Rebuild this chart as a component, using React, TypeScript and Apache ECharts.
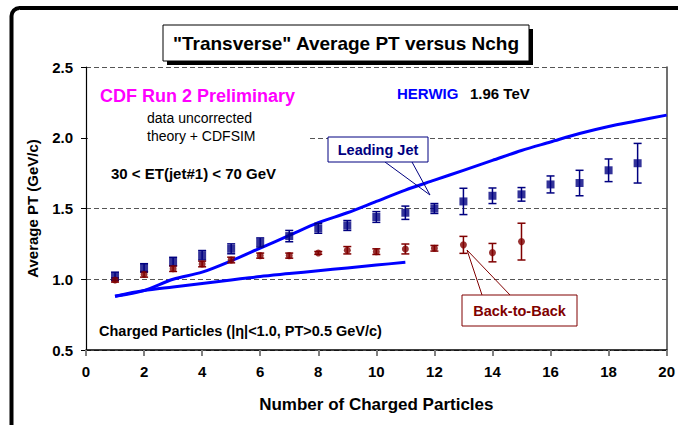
import React, { useEffect, useRef } from "react";
import * as echarts from "echarts";

const FONT = '"Liberation Sans", Arial, sans-serif';

// Data points (CDF Run 2 Preliminary)
const leadingJetN = [1, 2, 3, 4, 5, 6, 7, 8, 9, 10, 11, 12, 13, 14, 15, 16, 17, 18, 19];
const leadingJetPT = [1.02, 1.08, 1.125, 1.17, 1.215, 1.26, 1.305, 1.36, 1.38, 1.44, 1.47, 1.5, 1.55, 1.59, 1.6, 1.67, 1.68, 1.77, 1.82];
const leadingJetErr = [0.03, 0.03, 0.03, 0.033, 0.035, 0.032, 0.04, 0.035, 0.035, 0.038, 0.047, 0.035, 0.093, 0.055, 0.048, 0.06, 0.09, 0.08, 0.14];

const backToBackN = [1, 2, 3, 4, 5, 6, 7, 8, 9, 10, 11, 12, 13, 14, 15];
const backToBackPT = [0.995, 1.035, 1.075, 1.108, 1.136, 1.167, 1.167, 1.186, 1.205, 1.195, 1.214, 1.219, 1.243, 1.188, 1.266];
const backToBackErr = [0.015, 0.02, 0.02, 0.02, 0.02, 0.018, 0.018, 0.01, 0.026, 0.02, 0.035, 0.02, 0.06, 0.065, 0.13];

// HERWIG theory curves
const herwigLeadingN = [1, 2, 3, 4, 5, 6, 7, 8, 9, 10, 11, 12, 13, 14, 15, 16, 17, 18, 19, 20];
const herwigLeadingPT = [0.88, 0.92, 1.0, 1.05, 1.13, 1.22, 1.31, 1.4, 1.47, 1.55, 1.63, 1.7, 1.77, 1.84, 1.91, 1.97, 2.03, 2.08, 2.12, 2.16];
const herwigBackN = [1, 2, 3, 4, 5, 6, 7, 8, 9, 10, 11];
const herwigBackPT = [0.88, 0.92, 0.945, 0.97, 0.995, 1.02, 1.04, 1.06, 1.08, 1.1, 1.12];

const NAVY = "#000080";
const MAROON = "#800000";
const BLUE = "#0000ff";

function errorSeries(ns: number[], vals: number[], errs: number[], color: string) {
  return {
    type: "custom",
    z: 3,
    data: ns.map((n, i) => [n, vals[i] - errs[i], vals[i] + errs[i]]),
    encode: { x: 0, y: [1, 2] },
    renderItem: (_p: any, api: any) => {
      const x = api.value(0);
      const top = api.coord([x, api.value(2)]);
      const bot = api.coord([x, api.value(1)]);
      const w = 4;
      const st = { stroke: color, lineWidth: 1.5 };
      return {
        type: "group",
        children: [
          { type: "line", shape: { x1: top[0], y1: top[1], x2: bot[0], y2: bot[1] }, style: st },
          { type: "line", shape: { x1: top[0] - w, y1: top[1], x2: top[0] + w, y2: top[1] }, style: st },
          { type: "line", shape: { x1: bot[0] - w, y1: bot[1], x2: bot[0] + w, y2: bot[1] }, style: st },
        ],
      };
    },
  };
}

function txt(text: string, x: number, y: number, size: number, color: string, weight = "bold", align = "left") {
  return {
    type: "text",
    x,
    y,
    z: 10,
    style: {
      text,
      fill: color,
      font: `${weight} ${size}px ${FONT}`,
      align,
      verticalAlign: "middle",
    },
  };
}

export default function App() {
  const ref = useRef<HTMLDivElement>(null);
  useEffect(() => {
    if (!ref.current) return;
    const chart = echarts.init(ref.current, undefined, { renderer: "svg" });
    const option: any = {
      animation: false,
      backgroundColor: "#ffffff",
      grid: { left: 86, right: 10, top: 67, bottom: 75 },
      xAxis: {
        type: "value",
        min: 0,
        max: 20,
        interval: 2,
        name: "Number of Charged Particles",
        nameLocation: "middle",
        nameGap: 46,
        nameTextStyle: { fontFamily: FONT, fontWeight: "bold", fontSize: 17, color: "#000" },
        axisLine: { lineStyle: { color: "#000", width: 1.5 } },
        axisTick: { inside: false, length: 6, lineStyle: { color: "#808080", width: 2 } },
        axisLabel: { fontFamily: FONT, fontWeight: "bold", fontSize: 15, color: "#000", margin: 14 },
        splitLine: { show: false },
      },
      yAxis: [
        {
          type: "value",
          min: 0.5,
          max: 2.5,
          interval: 0.5,
          name: "Average PT (GeV/c)",
          nameLocation: "middle",
          nameGap: 46,
          nameRotate: 90,
          nameTextStyle: { fontFamily: FONT, fontWeight: "bold", fontSize: 15, color: "#000" },
          axisLine: { show: true, lineStyle: { color: "#000", width: 1.2 } },
          axisTick: { show: true, length: 5, lineStyle: { color: "#000" } },
          axisLabel: {
            fontFamily: FONT,
            fontWeight: "bold",
            fontSize: 15,
            color: "#000",
            margin: 13,
            formatter: (v: number) => v.toFixed(1),
          },
          splitLine: { show: true, lineStyle: { color: "#555", type: [5, 3], width: 1 } },
        },
        {
          type: "value",
          min: 0.5,
          max: 2.5,
          interval: 0.5,
          position: "right",
          axisLine: { show: true, lineStyle: { color: "#404040", width: 1.5 } },
          axisTick: { show: false },
          axisLabel: { show: false },
          splitLine: { show: false },
        },
      ],
      series: [
        {
          type: "line",
          name: "HERWIG Leading Jet",
          data: herwigLeadingN.map((n, i) => [n, herwigLeadingPT[i]]),
          showSymbol: false,
          smooth: 0.3,
          lineStyle: { color: BLUE, width: 3 },
          z: 2,
        },
        {
          type: "line",
          name: "HERWIG Back-to-Back",
          data: herwigBackN.map((n, i) => [n, herwigBackPT[i]]),
          showSymbol: false,
          smooth: 0.3,
          lineStyle: { color: BLUE, width: 3 },
          z: 2,
        },
        errorSeries(leadingJetN, leadingJetPT, leadingJetErr, NAVY),
        errorSeries(backToBackN, backToBackPT, backToBackErr, MAROON),
        {
          type: "scatter",
          name: "Leading Jet",
          data: leadingJetN.map((n, i) => [n, leadingJetPT[i]]),
          symbol: "rect",
          symbolSize: 8,
          itemStyle: { color: NAVY },
          z: 4,
        },
        {
          type: "scatter",
          name: "Back-to-Back",
          data: backToBackN.map((n, i) => [n, backToBackPT[i]]),
          symbol: "circle",
          symbolSize: 7,
          itemStyle: { color: MAROON },
          z: 4,
        },
      ],
      graphic: [
        // outer frame
        {
          type: "rect",
          z: 20,
          shape: { x: 11.5, y: 8, width: 900, height: 700, r: 8 },
          style: { fill: "none", stroke: "#000", lineWidth: 4 },
        },
        // white patch that hides the left part of the 2.0 gridline
        {
          type: "rect",
          z: 1,
          shape: { x: 88, y: 134, width: 219, height: 8 },
          style: { fill: "#fff" },
        },
        // title box
        { type: "rect", z: 8, shape: { x: 167, y: 29, width: 366, height: 36 }, style: { fill: "#000" } },
        { type: "rect", z: 9, shape: { x: 163, y: 25, width: 366, height: 36 }, style: { fill: "#fff", stroke: "#000", lineWidth: 1 } },
        txt('"Transverse" Average PT versus Nchg', 346, 43, 19, "#000", "bold", "center"),
        // annotations
        txt("CDF Run 2 Preliminary", 100, 95.5, 18, "#ff00ff"),
        txt("data uncorrected", 147, 118, 14, "#000", "normal"),
        txt("theory + CDFSIM", 147, 135.5, 14, "#000", "normal"),
        txt("30 < ET(jet#1) < 70 GeV", 111, 173.5, 15, "#000"),
        txt("HERWIG", 397, 93.5, 15, BLUE),
        txt("1.96 TeV", 470, 93.5, 15, "#000"),
        txt("Charged Particles (|η|<1.0, PT>0.5 GeV/c)", 99, 331, 14.5, "#000"),
        // Leading Jet callout
        {
          type: "polyline",
          z: 5,
          shape: { points: [[385, 162], [430, 195], [412, 162]] },
          style: { stroke: NAVY, lineWidth: 1, fill: "none" },
        },
        { type: "rect", z: 6, shape: { x: 328, y: 137, width: 100, height: 25 }, style: { fill: "#fff", stroke: NAVY, lineWidth: 1 } },
        txt("Leading Jet", 378, 149.5, 14.5, NAVY, "bold", "center"),
        // Back-to-Back callout
        {
          type: "polyline",
          z: 5,
          shape: { points: [[482, 295], [467, 250], [510, 295]] },
          style: { stroke: MAROON, lineWidth: 1, fill: "none" },
        },
        { type: "rect", z: 6, shape: { x: 462, y: 295, width: 115, height: 31 }, style: { fill: "#fff", stroke: MAROON, lineWidth: 1 } },
        txt("Back-to-Back", 519.5, 310.5, 14.5, MAROON, "bold", "center"),
      ],
    };
    chart.setOption(option);
    return () => chart.dispose();
  }, []);
  return (
    <div
      ref={ref}
      style={{ position: "fixed", left: 0, top: 0, width: 678, height: 425, background: "#fff" }}
    />
  );
}
